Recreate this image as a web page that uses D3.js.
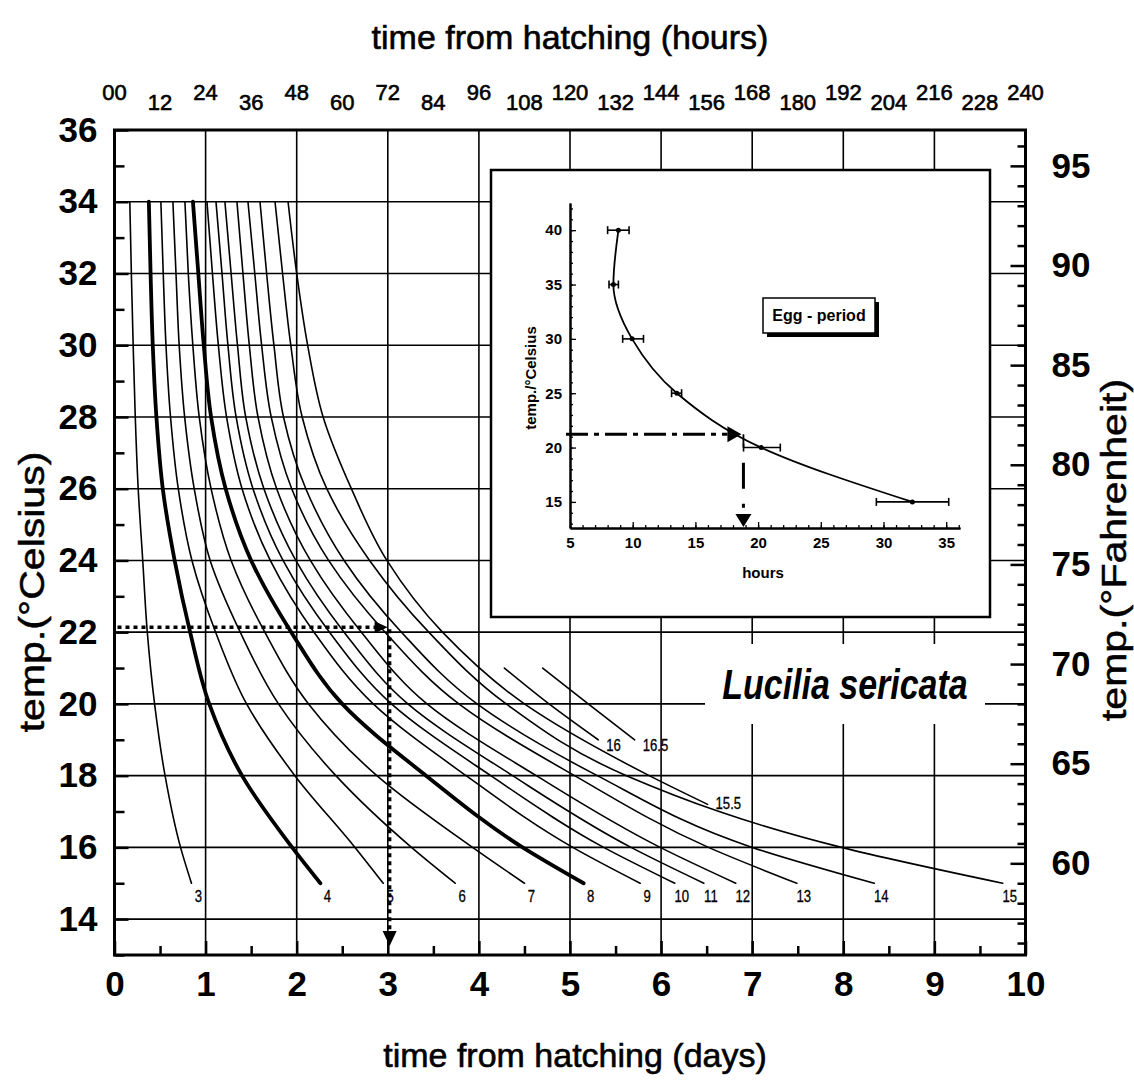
<!DOCTYPE html>
<html><head><meta charset="utf-8">
<script src="https://cdn.jsdelivr.net/npm/d3@7"></script>
<style>
html,body{margin:0;padding:0;background:#fff;}
svg{display:block;}
text{font-family:"Liberation Sans",Arial,Helvetica,sans-serif;fill:#000;}
</style></head><body>
<svg id="chart" width="1134" height="1080"></svg>
<script>
// ---------------- DATA ----------------
// temperatures (°C) at which each isomegalen curve was read
const tempLevels = [34, 32, 30, 28, 26, 24, 22, 20, 18, 16, 15];
// time from hatching (days) for each larval length (mm)
const days3  = [0.168, 0.185, 0.205, 0.228, 0.26, 0.31, 0.36, 0.44, 0.555, 0.725, 0.845];
const days4  = [0.377, 0.396, 0.42, 0.46, 0.53, 0.66, 0.83, 1.04, 1.40, 1.95, 2.26];
const days5  = [0.509, 0.535, 0.565, 0.615, 0.70, 0.85, 1.11, 1.45, 1.98, 2.64, 2.95];
const days6  = [0.641, 0.675, 0.71, 0.77, 0.875, 1.05, 1.38, 1.8, 2.43, 3.26, 3.74];
const days7  = [0.773, 0.81, 0.86, 0.93, 1.06, 1.28, 1.65, 2.13, 2.88, 3.93, 4.5];
const days8  = [0.861, 0.92, 0.98, 1.06, 1.22, 1.5, 1.94, 2.5, 3.42, 4.48, 5.15];
const days9  = [1.015, 1.075, 1.14, 1.23, 1.40, 1.71, 2.19, 2.84, 3.86, 5.03, 5.77];
const days10 = [1.114, 1.18, 1.245, 1.335, 1.52, 1.85, 2.36, 3.04, 4.13, 5.37, 6.15];
const days11 = [1.212, 1.28, 1.35, 1.44, 1.64, 1.99, 2.52, 3.22, 4.37, 5.67, 6.47];
const days12 = [1.344, 1.41, 1.48, 1.575, 1.78, 2.15, 2.71, 3.43, 4.63, 5.99, 6.82];
const days13 = [1.465, 1.54, 1.615, 1.72, 1.945, 2.35, 2.97, 3.78, 5.05, 6.52, 7.49];
const days14 = [1.597, 1.67, 1.75, 1.855, 2.1, 2.52, 3.15, 3.98, 5.3, 7.0, 8.34];
const days15 = [1.762, 1.845, 1.935, 2.06, 2.33, 2.8, 3.45, 4.3, 5.62, 7.98, 9.75];
const temps155 = [34, 32, 30, 28, 26, 24, 22, 20, 18, 17.2];
const days155  = [1.905, 2.0, 2.12, 2.29, 2.6, 2.99, 3.6, 4.5, 5.87, 6.51];
const temps16  = [21, 20, 19];
const days16   = [4.28, 4.77, 5.31];
const days165  = [4.70, 5.20, 5.71];
const curveLabels = ["3","4","5","6","7","8","9","10","11","12","13","14","15"];
const thickCurves = ["4","8"];
// reading example (main chart)
const readTemp = 22.14, readDays = 3.02;
// axis ticks
const dayTicks = [0,1,2,3,4,5,6,7,8,9,10];
const celsiusTicks = [14,16,18,20,22,24,26,28,30,32,34,36];
const fahrenheitTicks = [60,65,70,75,80,85,90,95];
const hourTicks = [0,12,24,36,48,60,72,84,96,108,120,132,144,156,168,180,192,204,216,228,240];
// inset: egg period
const eggTemp  = [40, 35, 30, 25, 20, 15];
const eggHours = [8.86, 8.46, 9.95, 13.52, 20.25, 32.3];
const eggLo    = [8.0, 8.11, 9.2, 13.1, 18.84, 29.43];
const eggHi    = [9.71, 8.86, 10.86, 13.9, 21.77, 35.2];
const eggReadTemp = 21.22, eggReadHours = 18.83;
const insetXTicks = [5,10,15,20,25,30,35];
const insetYTicks = [15,20,25,30,35,40];

// ---------------- DRAW ----------------
const svg = d3.select("#chart");
const FONT = '"Liberation Sans",Arial,Helvetica,sans-serif';
const x  = d3.scaleLinear().domain([0,10]).range([114.5,1025.5]);
const y  = d3.scaleLinear().domain([13,36]).range([955,130]);
const xH = d3.scaleLinear().domain([0,240]).range([114.5,1025.5]);
const yF = d3.scaleLinear().domain([13*1.8+32, 36*1.8+32]).range([955,130]);

svg.append("rect").attr("width",1134).attr("height",1080).attr("fill","#fff");

// grid
const grid = svg.append("g").attr("stroke","#000").attr("stroke-width",1.6);
grid.selectAll("line.v").data(dayTicks.slice(1,-1)).join("line")
  .attr("x1",d=>x(d)).attr("x2",d=>x(d)).attr("y1",y(13)).attr("y2",y(36));
grid.selectAll("line.h").data(celsiusTicks.slice(0,-1)).join("line")
  .attr("x1",x(0)).attr("x2",x(10)).attr("y1",d=>y(d)).attr("y2",d=>y(d));

// curves
const line = d3.line().x(d=>x(d.t)).y(d=>y(d.T)).curve(d3.curveMonotoneY);
const allDays = [days3,days4,days5,days6,days7,days8,days9,days10,days11,days12,days13,days14,days15];
const curves = allDays.map((arr,i)=>({label:curveLabels[i], pts:arr.map((t,j)=>({t, T:tempLevels[j]}))}));
curves.push({label:"15.5", pts:days155.map((t,j)=>({t,T:temps155[j]}))});
curves.push({label:"16", pts:days16.map((t,j)=>({t,T:temps16[j]}))});
curves.push({label:"16.5", pts:days165.map((t,j)=>({t,T:temps16[j]}))});

svg.append("g").selectAll("path").data(curves).join("path")
  .attr("d",d=>line(d.pts)).attr("fill","none").attr("stroke","#000")
  .attr("stroke-width",d=>thickCurves.includes(d.label)?3.8:1.6)
  .attr("stroke-linecap","round");

// curve labels
const lab = svg.append("g").attr("font-size",16).attr("font-family",FONT);
lab.selectAll("text").data(curves).join("text")
  .attr("transform",d=>{
    const e = d.pts[d.pts.length-1];
    let px, py;
    if (d.label==="15.5") { px = x(e.t)+8; py = y(e.T)+5; }
    else if (d.label==="16" || d.label==="16.5") { px = x(e.t)+8; py = y(e.T)+11; }
    else { px = x(e.t)+7; py = y(14.48); }
    return `translate(${px},${py}) scale(0.82,1)`;
  })
  .attr("text-anchor",d=>["15.5","16","16.5"].includes(d.label)?"start":"middle")
  .attr("stroke","#000").attr("stroke-width",0.3)
  .text(d=>d.label);

// dotted reading arrows
const dot = svg.append("g").attr("stroke","#000").attr("stroke-width",3.5).attr("stroke-dasharray","4,4").attr("fill","none");
dot.append("line").attr("x1",x(0)+3).attr("x2",x(readDays)-14).attr("y1",y(readTemp)).attr("y2",y(readTemp));
dot.append("line").attr("x1",x(readDays)).attr("x2",x(readDays)).attr("y1",y(readTemp)+2).attr("y2",y(13)-20);
svg.append("path").attr("fill","#000")
  .attr("d",`M${x(readDays)-2},${y(readTemp)} l-13,-6 l0,12 z`);
svg.append("path").attr("fill","#000")
  .attr("d",`M${x(readDays)},${y(13)-9} l-7,-15 l14,0 z`);

// ---------------- INSET ----------------
const ins = svg.append("g");
ins.append("rect").attr("x",491).attr("y",170).attr("width",499).attr("height",447)
  .attr("fill","#fff").attr("stroke","#000").attr("stroke-width",2.5);
const xi = d3.scaleLinear().domain([5,36.1]).range([570,960]);
const yi = d3.scaleLinear().domain([12.6,42.5]).range([528,203]);

const ixMinor = ins.append("g").attr("transform","translate(0,528)")
  .call(d3.axisBottom(xi).tickValues(d3.range(5,37,1)).tickSize(-3).tickSizeOuter(0).tickFormat(""));
const iyMinor = ins.append("g").attr("transform","translate(570,0)")
  .call(d3.axisLeft(yi).tickValues(d3.range(13,43,1)).tickSize(-3).tickSizeOuter(0).tickFormat(""));
const ixAx = ins.append("g").attr("transform","translate(0,528)")
  .call(d3.axisBottom(xi).tickValues(insetXTicks).tickSize(-6).tickSizeOuter(0).tickPadding(9));
const iyAx = ins.append("g").attr("transform","translate(570,0)")
  .call(d3.axisLeft(yi).tickValues(insetYTicks).tickSize(-6).tickSizeOuter(0).tickPadding(8));
[ixMinor,iyMinor,ixAx,iyAx].forEach(g=>{
  g.selectAll("path.domain").attr("stroke","#000").attr("stroke-width",2);
  g.selectAll(".tick line").attr("stroke","#000").attr("stroke-width",1.3);
  g.selectAll("text").attr("font-family",FONT).attr("font-size",15).attr("font-weight","bold").attr("fill","#000");
});
ins.append("text").attr("x",763).attr("y",578).attr("text-anchor","middle")
  .attr("font-size",15).attr("font-weight","bold").text("hours");
ins.append("text").attr("transform","translate(536,378) rotate(-90)").attr("text-anchor","middle")
  .attr("font-size",15).attr("font-weight","bold").text("temp./°Celsius");

const eggPts = eggTemp.map((T,i)=>({T, h:eggHours[i], lo:eggLo[i], hi:eggHi[i]}));
const iline = d3.line().x(d=>xi(d.h)).y(d=>yi(d.T)).curve(d3.curveMonotoneY);
ins.append("path").attr("d",iline(eggPts)).attr("fill","none").attr("stroke","#000").attr("stroke-width",1.8);
const eb = ins.append("g").attr("stroke","#000").attr("stroke-width",1.6);
eb.selectAll("line.bar").data(eggPts).join("line")
  .attr("x1",d=>xi(d.lo)).attr("x2",d=>xi(d.hi)).attr("y1",d=>yi(d.T)).attr("y2",d=>yi(d.T));
eb.selectAll("line.lc").data(eggPts).join("line")
  .attr("x1",d=>xi(d.lo)).attr("x2",d=>xi(d.lo)).attr("y1",d=>yi(d.T)-4).attr("y2",d=>yi(d.T)+4);
eb.selectAll("line.hc").data(eggPts).join("line")
  .attr("x1",d=>xi(d.hi)).attr("x2",d=>xi(d.hi)).attr("y1",d=>yi(d.T)-4).attr("y2",d=>yi(d.T)+4);
ins.selectAll("circle").data(eggPts).join("circle")
  .attr("cx",d=>xi(d.h)).attr("cy",d=>yi(d.T)).attr("r",2.5).attr("fill","#000");

// dash-dot reading in inset
const dd = ins.append("g").attr("stroke","#000").attr("fill","none");
dd.append("line").attr("x1",566).attr("x2",xi(eggReadHours)-16)
  .attr("y1",yi(eggReadTemp)).attr("y2",yi(eggReadTemp))
  .attr("stroke-width",3).attr("stroke-dasharray","22,6,5,6");
dd.append("line").attr("x1",xi(eggReadHours)).attr("x2",xi(eggReadHours))
  .attr("y1",yi(eggReadTemp)).attr("y2",yi(20)).attr("stroke-width",1.8);
dd.append("line").attr("x1",xi(eggReadHours)).attr("x2",xi(eggReadHours))
  .attr("y1",yi(18.6)).attr("y2",yi(12.6)-14)
  .attr("stroke-width",3).attr("stroke-dasharray","26,15,4,20");
ins.append("path").attr("fill","#000")
  .attr("d",`M${xi(eggReadHours)-2},${yi(eggReadTemp)} l-14,-8 l0,16 z`);
ins.append("path").attr("fill","#000")
  .attr("d",`M${xi(eggReadHours)},${yi(12.6)-1} l-8,-13 l16,0 z`);

// Egg - period box
ins.append("rect").attr("x",767).attr("y",302).attr("width",112).attr("height",35).attr("fill","#000");
ins.append("rect").attr("x",763).attr("y",298).attr("width",112).attr("height",35)
  .attr("fill","#fff").attr("stroke","#000").attr("stroke-width",1.5);
ins.append("text").attr("x",819).attr("y",321).attr("text-anchor","middle")
  .attr("font-size",16).attr("font-weight","bold").text("Egg - period");

// ---------------- Species label ----------------
const sp = svg.append("g");
sp.append("rect").attr("x",705).attr("y",644).attr("width",280).attr("height",80).attr("fill","#fff");
sp.append("text").attr("transform","translate(845,699) scale(0.79,1)").attr("text-anchor","middle")
  .attr("font-size",43).attr("font-style","italic").attr("font-weight","bold").text("Lucilia sericata");

// ---------------- Frame & axes ----------------
function styleAxis(g, size, bold){
  g.selectAll("path.domain").remove();
  g.selectAll(".tick line").attr("stroke","#000").attr("stroke-width",2.5);
  g.selectAll("text").attr("font-family",FONT).attr("font-size",size)
    .attr("font-weight",bold?"bold":"normal").attr("fill","#000");
}
const bMinor = svg.append("g").attr("transform",`translate(0,${y(13)})`)
  .call(d3.axisBottom(x).tickValues(d3.range(0.5,10,1)).tickSize(-9).tickFormat(""));
styleAxis(bMinor,10,false);
const bAx = svg.append("g").attr("transform",`translate(0,${y(13)})`)
  .call(d3.axisBottom(x).tickValues(dayTicks).tickSize(-14).tickPadding(16));
styleAxis(bAx,35,true);
const lMinor = svg.append("g").attr("transform",`translate(${x(0)},0)`)
  .call(d3.axisLeft(y).tickValues(d3.range(13,36,2)).tickSize(-10).tickFormat(""));
styleAxis(lMinor,10,false);
const lAx = svg.append("g").attr("transform",`translate(${x(0)},0)`)
  .call(d3.axisLeft(y).tickValues(celsiusTicks).tickSize(-14).tickPadding(17));
styleAxis(lAx,35,true);
const rMinor = svg.append("g").attr("transform",`translate(${x(10)},0)`)
  .call(d3.axisRight(yF).tickValues(d3.range(56,97,1).filter(v=>v%5!==0)).tickSize(-8).tickFormat(""));
styleAxis(rMinor,10,false);
const rAx = svg.append("g").attr("transform",`translate(${x(10)},0)`)
  .call(d3.axisRight(yF).tickValues(fahrenheitTicks).tickSize(-15).tickPadding(26));
styleAxis(rAx,35,true);

svg.append("rect").attr("x",x(0)).attr("y",y(36)).attr("width",x(10)-x(0)).attr("height",y(13)-y(36))
  .attr("fill","none").attr("stroke","#000").attr("stroke-width",3);

// top hour labels (staggered)
svg.append("g").attr("font-size",22).attr("font-family",FONT)
  .attr("stroke","#000").attr("stroke-width",0.6)
  .selectAll("text").data(hourTicks).join("text")
  .attr("x",d=>xH(d)).attr("y",(d,i)=>i%2===0?100:110).attr("text-anchor","middle")
  .text(d=>d===0?"00":String(d));

// titles
const titles = svg.append("g").attr("stroke","#000").attr("stroke-width",0.6);
titles.append("text").attr("x",570).attr("y",49).attr("text-anchor","middle").attr("font-size",34)
  .text("time from hatching (hours)");
titles.append("text").attr("x",575).attr("y",1067).attr("text-anchor","middle").attr("font-size",34)
  .text("time from hatching (days)");
titles.append("text").attr("transform","translate(44,592) rotate(-90) scale(1,0.85)").attr("text-anchor","middle").attr("font-size",41)
  .text("temp.(°Celsius)");
titles.append("text").attr("transform","translate(1126,550) rotate(-90) scale(1,0.85)").attr("text-anchor","middle").attr("font-size",41)
  .text("temp.(°Fahrenheit)");
</script>
</body></html>
